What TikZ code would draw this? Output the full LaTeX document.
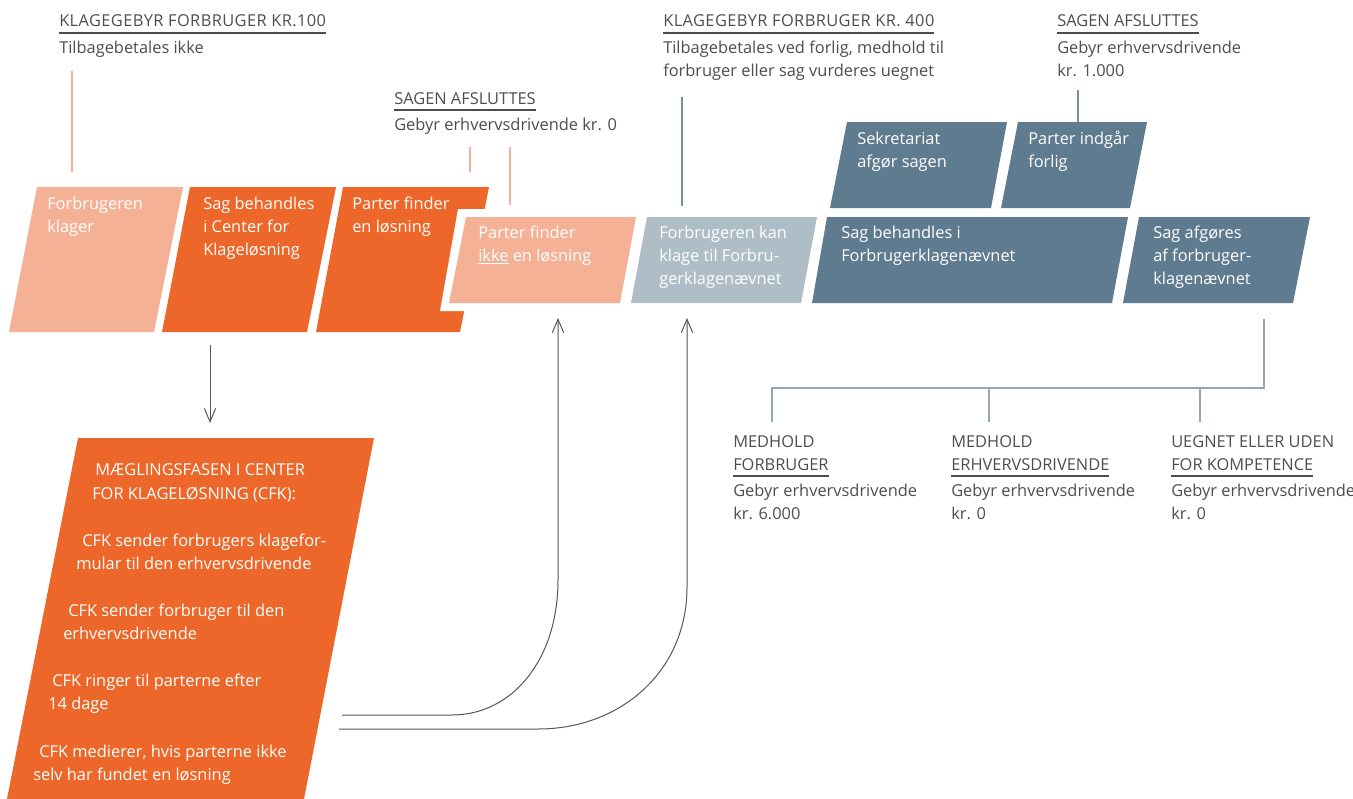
\documentclass[tikz,border=0pt]{standalone}
\usepackage{fontspec}
\setmainfont{Open Sans}
\usetikzlibrary{arrows.meta}
\definecolor{salmon}{HTML}{F5B195}
\definecolor{orng}{HTML}{EC6729}
\definecolor{lblue}{HTML}{AFBDC7}
\definecolor{slate}{HTML}{5F7B8F}
\definecolor{txt}{HTML}{4D4D4D}
\definecolor{arrc}{HTML}{555555}
\definecolor{treec}{HTML}{93A7B6}
\newcommand\fs{\fontsize{12.3pt}{17.25pt}\selectfont}
\newsavebox\myulbox
\newcommand\ulx[3]{\sbox\myulbox{#3}\makebox[0pt][l]{\raisebox{0pt}[0pt][0pt]{\color{#1}\rule[#2]{\wd\myulbox}{0.85pt}}}\usebox\myulbox}
\newcommand\wide[1]{{\addfontfeature{LetterSpace=2.5}#1}}
\newcommand\tl[1]{\begin{tabular}[t]{@{}l@{}}#1\end{tabular}}
\tikzset{
  x=0.75pt, y=-0.75pt,
  lbl/.style={inner sep=0, anchor=base west, text=txt, font=\fs},
  boxtxt/.style={inner sep=0, anchor=base west, text=white, font=\fs},
  arr/.style={draw=arrc, line width=0.75pt, -{Straight Barb[length=10pt,width=8.5pt]}},
  tree/.style={draw=treec, line width=1pt},
  salline/.style={draw=salmon, line width=1.3pt},
  slateline/.style={draw=slate!85, line width=1pt},
}
\begin{document}
\begin{tikzpicture}
\useasboundingbox (0,0) rectangle (1353,799);
% shapes
\fill[salmon] (37,187) -- (183,187) -- (154,332) -- (9,332) -- cycle;
\fill[orng] (190,187) -- (336,187) -- (307,332) -- (162,332) -- cycle;
\fill[orng] (343,187) -- (489,187) -- (460,332) -- (316,332) -- cycle;
\fill[white] (458,209) -- (660,209) -- (640,311) -- (440,311) -- cycle;
\fill[salmon] (466,217) -- (636,217) -- (620,303) -- (449,303) -- cycle;
\fill[lblue] (647,217) -- (817,217) -- (801,303) -- (631,303) -- cycle;
\fill[slate] (827,217) -- (1128,217) -- (1112,303) -- (812,303) -- cycle;
\fill[slate] (1139,217) -- (1310,217) -- (1293,303) -- (1123,303) -- cycle;
\fill[slate] (847,122) -- (1007,122) -- (991,208) -- (830,208) -- cycle;
\fill[slate] (1018,122) -- (1147,122) -- (1130,208) -- (1001,208) -- cycle;
\fill[orng] (78,438) -- (374,438) -- (304,799) -- (7,799) -- cycle;

% box texts
\node[boxtxt] (t1) at (47,209) {\tl{Forbrugeren\\klager}};
\node[boxtxt] (t2) at (203,209) {\tl{Sag behandles\\i Center for\\Klageløsning}};
\node[boxtxt] (t3) at (352,209) {\tl{Parter finder\\en løsning}};
\node[boxtxt] (t4) at (478,238) {\tl{Parter finder\\\ulx{white}{-2.2pt}{ikke} en løsning}};
\node[boxtxt] (t5) at (659,238) {\tl{Forbrugeren kan\\klage til Forbru-\\gerklagenævnet}};
\node[boxtxt] (t6) at (841,238) {\tl{Sag behandles i\\Forbrugerklagenævnet}};
\node[boxtxt] (t7) at (1153,238) {\tl{Sag afgøres\\af forbruger-\\klagenævnet}};
\node[boxtxt] (t8) at (857,144) {\tl{Sekretariat\\afgør sagen}};
\node[boxtxt] (t9) at (1028,144) {\tl{Parter indgår\\forlig}};

% big box lines
\node[boxtxt] (m1) at (95,475) {MÆGLINGSFASEN I CENTER};
\node[boxtxt] (m2) at (92,499) {FOR KLAGELØSNING (CFK):};
\node[boxtxt] (m3) at (82,546) {CFK sender forbrugers klagefor-};
\node[boxtxt] (m4) at (76,569) {mular til den erhvervsdrivende};
\node[boxtxt] (m5) at (68,616) {CFK sender forbruger til den};
\node[boxtxt] (m6) at (63,639) {erhvervsdrivende};
\node[boxtxt] (m7) at (52,686) {CFK ringer til parterne efter};
\node[boxtxt] (m8) at (48,709) {14 dage};
\node[boxtxt] (m9) at (39,757) {CFK medierer, hvis parterne ikke};
\node[boxtxt] (m10) at (33,780) {selv har fundet en løsning};

% headings
\node[lbl] (h1) at (59,27) {\tl{\ulx{txt}{-4.9pt}{\wide{KLAGEGEBYR FORBRUGER KR.100}}\\[2.3pt]Tilbagebetales ikke}};
\node[lbl] (h2) at (394,104) {\tl{\ulx{txt}{-4.9pt}{SAGEN AFSLUTTES}\\[2.3pt]Gebyr erhvervsdrivende kr. 0}};
\node[lbl] (h3) at (663,27) {\tl{\ulx{txt}{-4.9pt}{\wide{KLAGEGEBYR FORBRUGER KR. 400}}\\[2.3pt]Tilbagebetales ved forlig, medhold til\\forbruger eller sag vurderes uegnet}};
\node[lbl] (h4) at (1057,27) {\tl{\ulx{txt}{-4.9pt}{SAGEN AFSLUTTES}\\[2.3pt]Gebyr erhvervsdrivende\\kr. 1.000}};
\node[lbl] (b1) at (733,447) {\tl{MEDHOLD\\\ulx{txt}{-4.9pt}{FORBRUGER}\\[2.3pt]Gebyr erhvervsdrivende\\kr. 6.000}};
\node[lbl] (b2) at (951,447) {\tl{MEDHOLD\\\ulx{txt}{-4.9pt}{ERHVERVSDRIVENDE}\\[2.3pt]Gebyr erhvervsdrivende\\kr. 0}};
\node[lbl] (b3) at (1171,447) {\tl{UEGNET ELLER UDEN\\\ulx{txt}{-4.9pt}{FOR KOMPETENCE}\\[2.3pt]Gebyr erhvervsdrivende\\kr. 0}};

% connector end points
\coordinate (l1a) at (72,71);   \coordinate (l1b) at (72,172);
\coordinate (l2a) at (470,147); \coordinate (l2b) at (470,172);
\coordinate (l3a) at (510,147); \coordinate (l3b) at (510,205);
\coordinate (l4a) at (682,97);  \coordinate (l4b) at (682,206);
\coordinate (l5a) at (1078,90); \coordinate (l5b) at (1078,122);
\coordinate (da) at (210,345);  \coordinate (db) at (210,423);
\coordinate (c1a) at (342,715); \coordinate (c1b) at (558,318);
\coordinate (c2a) at (339,729); \coordinate (c2b) at (687,318);
\coordinate (ta) at (1264,319); \coordinate (tj) at (1264,388);
\coordinate (tb1) at (772,422); \coordinate (tb2) at (989,422); \coordinate (tb3) at (1200,422);

\draw[salline] (l1a) -- (l1b);
\draw[salline] (l2a) -- (l2b);
\draw[salline] (l3a) -- (l3b);
\draw[slateline] (l4a) -- (l4b);
\draw[slateline] (l5a) -- (l5b);
\draw[arr] (da) -- (db);
\draw[arr] (c1a) -- (452,715) .. controls (512,715) and (558,660) .. (558,580) -- (c1b);
\draw[arr] (c2a) -- (538,729) .. controls (620,729) and (687,672) .. (687,587) -- (c2b);
\draw[tree] (ta) -- (tj) -- (tb1 |- tj) -- (tb1);
\draw[tree] (tb2 |- tj) -- (tb2);
\draw[tree] (tb3 |- tj) -- (tb3);
\end{tikzpicture}
\end{document}
